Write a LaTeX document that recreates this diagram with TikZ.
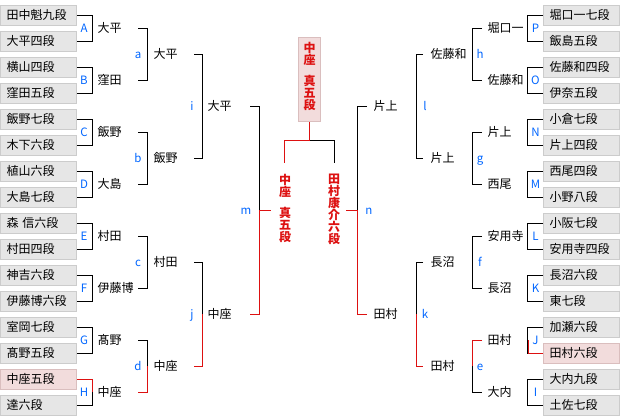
\documentclass[tikz,border=0pt]{standalone}
\usepackage{fontspec}
\setmainfont{Noto Sans CJK JP}
\definecolor{boxfill}{RGB}{230,230,230}
\definecolor{boxline}{RGB}{204,204,204}
\definecolor{pinkfill}{RGB}{242,220,220}
\definecolor{pinkline}{RGB}{218,190,190}
\definecolor{winred}{RGB}{221,17,17}
\definecolor{letblue}{RGB}{0,102,255}
\tikzset{
  gbox/.style={draw=boxline, fill=boxfill, line width=1pt, minimum height=20pt,
    text width=64pt, inner xsep=6pt, inner ysep=0pt, align=left, font=\fontsize{12}{12}\selectfont},
  pbox/.style={gbox, draw=pinkline, fill=pinkfill},
  wname/.style={anchor=west, inner sep=0pt, font=\fontsize{12}{12}\selectfont},
  letter/.style={anchor=base, inner sep=0pt, text=letblue, font=\fontsize{11.5}{11.5}\selectfont},
  vtext/.style={anchor=north, inner sep=0pt, align=center, text=winred,
    font=\fontsize{12}{12}\selectfont\bfseries},
  redline/.style={draw=winred, line width=1pt},
}
\begin{document}
\begin{tikzpicture}[x=1pt, y=-1pt, line width=1pt]
\useasboundingbox (0,0) rectangle (620,416);
\fill[white] (0,0) rectangle (620,416);

% ---------- left players ----------
\foreach \nm/\st [count=\k from 0] in {田中魁九段/gbox, 大平四段/gbox, 横山四段/gbox, 窪田五段/gbox,
  飯野七段/gbox, 木下六段/gbox, 植山六段/gbox, 大島七段/gbox, 森 信六段/gbox, 村田四段/gbox,
  神吉六段/gbox, 伊藤博六段/gbox, 室岡七段/gbox, 髙野五段/gbox, 中座五段/pbox, 達六段/gbox}
  \node[\st] (L\k) at (38.5,{15+26*\k}) {\nm};

% ---------- right players ----------
\foreach \nm/\st [count=\k from 0] in {堀口一七段/gbox, 飯島五段/gbox, 佐藤和四段/gbox, 伊奈五段/gbox,
  小倉七段/gbox, 片上四段/gbox, 西尾四段/gbox, 小野八段/gbox, 小阪七段/gbox, 安用寺四段/gbox,
  長沼六段/gbox, 東七段/gbox, 加瀬六段/gbox, 田村六段/pbox, 大内九段/gbox, 土佐七段/gbox}
  \node[\st] (R\k) at (581.5,{15+26*\k}) {\nm};

% ---------- round 1 brackets ----------
\foreach \k in {0,...,7} {
  \pgfmathtruncatemacro\ta{2*\k}
  \pgfmathtruncatemacro\tb{2*\k+1}
  \draw (L\ta.east) -- ++(15.5,0) |- (L\tb.east);
  \draw (R\ta.west) -- ++(-15.5,0) |- (R\tb.west);
}
\foreach \nm/\lt [count=\k from 0] in {大平/A, 窪田/B, 飯野/C, 大島/D, 村田/E, 伊藤博/F, 髙野/G, 中座/H} {
  \node[wname] (WL1\k) at (97,{28+52*\k}) {\nm};
  \node[letter] at (84,{28+52*\k+4.5}) {\lt};
}
\foreach \nm/\lt [count=\k from 0] in {堀口一/P, 佐藤和/O, 片上/N, 西尾/M, 安用寺/L, 長沼/K, 田村/J, 大内/I} {
  \node[wname] (WR1\k) at (487,{28+52*\k}) {\nm};
  \node[letter] at (535.5,{28+52*\k+4.5}) {\lt};
}

% ---------- round 2 brackets ----------
\foreach \k in {0,...,3} {
  \coordinate (la\k) at (138,{28+104*\k});
  \coordinate (lb\k) at (138,{80+104*\k});
  \draw (la\k) -- ++(9,0) |- (lb\k);
  \coordinate (ra\k) at (482,{28+104*\k});
  \coordinate (rb\k) at (482,{80+104*\k});
  \draw (ra\k) -- ++(-10,0) |- (rb\k);
}
\foreach \nm/\lt [count=\k from 0] in {大平/a, 飯野/b, 村田/c, 中座/d} {
  \node[wname] (WL2\k) at (153,{54+104*\k}) {\nm};
  \node[letter] at (138,{54+104*\k+4}) {\lt};
}
\foreach \nm/\lt [count=\k from 0] in {佐藤和/h, 片上/g, 長沼/f, 田村/e} {
  \node[wname] (WR2\k) at (430,{54+104*\k}) {\nm};
  \node[letter] at (480,{54+104*\k+4}) {\lt};
}

% ---------- round 3 brackets ----------
\foreach \k in {0,1} {
  \coordinate (lc\k) at (194,{54+208*\k});
  \coordinate (ld\k) at (194,{158+208*\k});
  \draw (lc\k) -- ++(8,0) |- (ld\k);
  \coordinate (rc\k) at (423,{54+208*\k});
  \coordinate (rd\k) at (423,{158+208*\k});
  \draw (rc\k) -- ++(-7,0) |- (rd\k);
}
\foreach \nm/\lt [count=\k from 0] in {大平/i, 中座/j} {
  \node[wname] (WL3\k) at (207,{106+208*\k}) {\nm};
  \node[letter] at (192,{106+208*\k+4.5}) {\lt};
}
\foreach \nm/\lt [count=\k from 0] in {片上/l, 田村/k} {
  \node[wname] (WR3\k) at (373,{106+208*\k}) {\nm};
  \node[letter] at (425,{106+208*\k+4.5}) {\lt};
}

% ---------- round 4 (semi-final) ----------
\coordinate (lm1) at (250,106);
\coordinate (lm2) at (250,314);
\coordinate (lmo) at (259,210);
\coordinate (lme) at (271,210);
\draw (lm1) -- ++(9,0) |- (lm2);
\node[letter] at (246,214) {m};
\coordinate (rn1) at (367,106);
\coordinate (rn2) at (367,314);
\coordinate (rno) at (357,210);
\coordinate (rne) at (346,210);
\draw (rn1) -- ++(-10,0) |- (rn2);
\node[letter] at (369,214) {n};

% ---------- red winning path ----------
\draw[redline] (L14.east) -- (92,379) -- (92,392);
\draw[redline] (147,366) -- (147,392) -- (138,392);
\draw[redline] (202,314) -- (202,366) -- (194,366);
\draw[redline] (259,210) -- (259,314) -- (lm2);
\draw[redline] (lmo) -- (lme);
\draw[redline] (R13.west) -- (528,353) -- (528,340);
\draw[redline] (472,366) -- (472,340) -- (482,340);
\draw[redline] (416,314) -- (416,366) -- (423,366);
\draw[redline] (357,210) -- (357,314) -- (rn2);
\draw[redline] (rno) -- (rne);

% ---------- final ----------
\node[draw=pinkline, fill=pinkfill, line width=1pt, minimum width=22pt, minimum height=84pt,
  inner sep=0pt] (champ) at (309.5,79.5) {};
\node[vtext] (champtxt) at (309.5,42) {中\\座\\[9pt]真\\五\\段};
\coordinate (fj) at (309.5,140);
\coordinate (fa) at (284,163);
\coordinate (fb) at (334,163);
\draw (fj) -| (fb);
\draw[redline] (champ.south) -- (fj) -| (fa);
\node[vtext] (fin1) at (285,174) {中\\座\\[9pt]真\\五\\段};
\node[vtext] (fin2) at (334,174) {田\\村\\康\\介\\六\\段};
\end{tikzpicture}
\end{document}
